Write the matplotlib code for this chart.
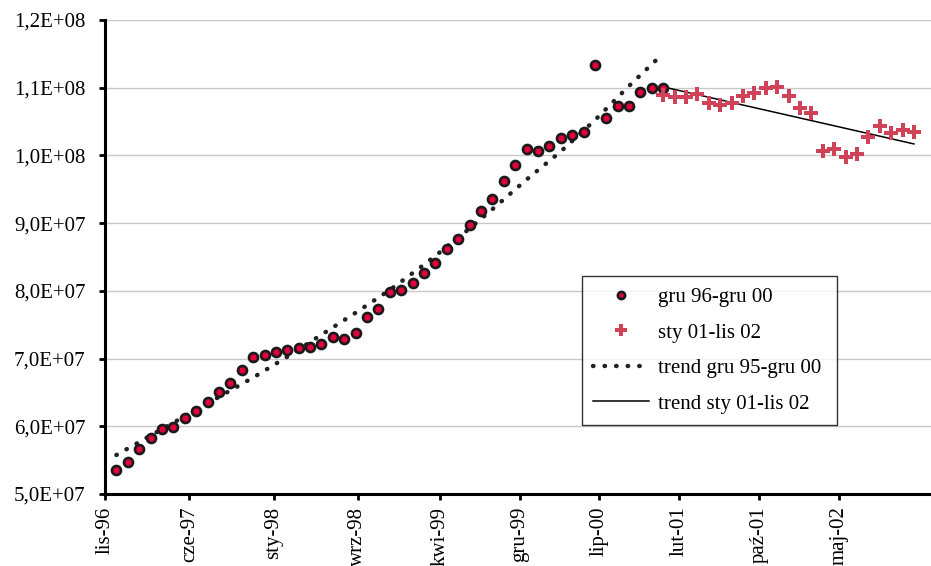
import numpy as np
import matplotlib.pyplot as plt
from matplotlib.ticker import FuncFormatter, MultipleLocator

plt.rcParams['font.family'] = ['Liberation Serif', 'DejaVu Serif']

# values in millions, one point per month
circ_vals = [53.55, 54.73, 56.65, 58.27, 59.60, 59.90, 61.23, 62.26, 63.59, 65.07,
             66.40, 68.32, 70.20, 70.50, 70.97, 71.27, 71.57, 71.71, 72.16, 73.19,
             72.90, 73.78, 76.14, 77.33, 79.90, 80.20, 81.10, 82.64, 84.12, 86.19,
             87.67, 89.73, 91.80, 93.57, 96.23, 98.60, 100.96, 100.66, 101.40, 102.58,
             103.03, 103.47, 113.37, 105.54, 107.31, 107.31, 109.38, 109.97, 109.97]
cross_vals = [108.94, 108.64, 108.64, 109.08, 107.75, 107.46, 107.75, 108.79, 109.23,
              109.97, 110.12, 108.79, 107.02, 106.28, 100.66, 100.96, 99.78, 100.22,
              102.73, 104.36, 103.32, 103.77, 103.47]
cross_start = 48

# trend curves (month index, value in millions)
trend1_x = [0, 3, 6, 9, 12, 15, 18, 21, 24, 27, 30, 33, 36, 39, 42, 45, 48]
trend1_y = [55.76, 58.63, 61.48, 64.34, 67.19, 70.27, 73.52, 76.77, 80.13, 83.87,
            87.81, 92.05, 96.43, 100.58, 105.21, 110.27, 115.07]
trend2_x = [48, 70]
trend2_y = [110.12, 101.70]

tick_labels = ['lis-96', 'cze-97', 'sty-98', 'wrz-98', 'kwi-99', 'gru-99',
               'lip-00', 'lut-01', 'paź-01', 'maj-02']
tick_pos = [-1, 6.4, 13.8, 21.2, 28.4, 35.4, 42.4, 49.4, 56.4, 63.4]

circ_x = np.arange(len(circ_vals))
cross_x = np.arange(cross_start, cross_start + len(cross_vals))


def sci_comma(v, pos):
    e = int(np.floor(np.log10(v)))
    return ('%.1fE+%02d' % (v / 10 ** e, e)).replace('.', ',')


fig = plt.figure(figsize=(9.31, 5.66), dpi=100)
ax = fig.add_axes([105 / 931, 1 - 494 / 566, 826 / 931, 474 / 566])

ax.plot(trend1_x, np.array(trend1_y) * 1e6, color='#222222', lw=3.2,
        linestyle=(0, (0.1, 2.5)), dash_capstyle='round', label='trend gru 95-gru 00', zorder=2)
ax.plot(trend2_x, np.array(trend2_y) * 1e6, color='black', lw=1.1,
        label='trend sty 01-lis 02', zorder=2)
ax.plot(circ_x, np.array(circ_vals) * 1e6, 'o', ms=6.5, mfc='#e4003c', mec='#1a1a1a',
        mew=1.9, label='gru 96-gru 00', zorder=3)
ax.plot(cross_x, np.array(cross_vals) * 1e6, 'P', ms=10, color='#cf4257', mec='#cf4257',
        mew=0, label='sty 01-lis 02', zorder=3)

ax.set_xlim(-1, 71.5)
ax.set_ylim(5e7, 1.2e8)
ax.yaxis.set_major_locator(MultipleLocator(1e7))
ax.yaxis.set_major_formatter(FuncFormatter(sci_comma))
ax.set_xticks(tick_pos)
ax.set_xticklabels(tick_labels, rotation=90)
ax.grid(axis='y', color='#c8c8c8', lw=1)
ax.set_axisbelow(True)
for s in ['top', 'right']:
    ax.spines[s].set_visible(False)
for s in ['left', 'bottom']:
    ax.spines[s].set_linewidth(2.2)
ax.tick_params(axis='both', labelsize=15, width=2, length=4, direction='out')
ax.tick_params(axis='y', pad=10)
ax.tick_params(axis='x', pad=5)

h, l = ax.get_legend_handles_labels()
order = [2, 3, 0, 1]
leg = ax.legend([h[i] for i in order], [l[i] for i in order], loc='lower left',
                bbox_to_anchor=(0.5775, 0.1456, 0.3085, 0.3164), mode='expand',
                borderaxespad=0, fontsize=15, frameon=True, fancybox=False,
                edgecolor='black', handlelength=2.65, handletextpad=0.43,
                borderpad=0.55, labelspacing=0.76, markerscale=0.8)
leg.get_frame().set_linewidth(1)

fig.savefig('out.png', dpi=100)
